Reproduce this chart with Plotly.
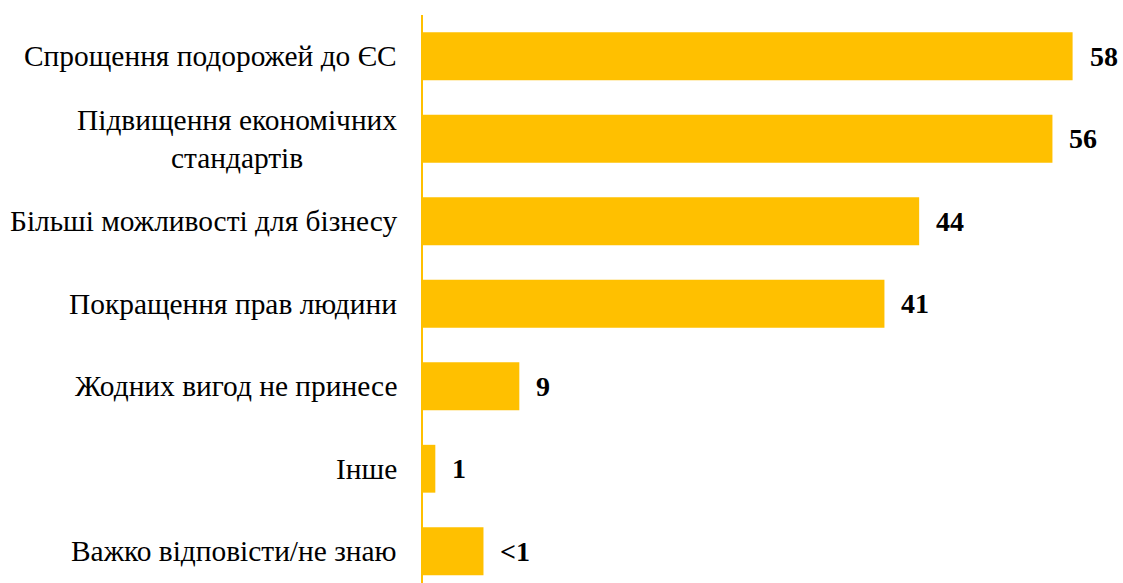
import plotly.graph_objects as go

categories = [
    "Спрощення подорожей до ЄС",
    "Підвищення економічних<br>стандартів",
    "Більші можливості для бізнесу",
    "Покращення прав людини",
    "Жодних вигод не принесе",
    "Інше",
    "Важко відповісти/не знаю",
]
values = [58, 56.2, 44.3, 41.2, 8.6, 1.1, 5.4]
value_labels = ["58", "56", "44", "41", "9", "1", "<1"]

GOLD = "#FFC000"
FONT = "Liberation Serif, Times New Roman, serif"

ypos = list(range(len(categories)))

fig = go.Figure()
fig.add_trace(go.Bar(
    x=values, y=ypos, orientation="h",
    marker=dict(color=GOLD, line=dict(width=0)),
    width=0.58, hoverinfo="skip",
))

annotations = []
for i, (cat, v, lab) in enumerate(zip(categories, values, value_labels)):
    annotations.append(dict(
        x=v, y=i, xref="x", yref="y", text=f"<b>{lab}</b>",
        showarrow=False, xanchor="left", yanchor="middle", xshift=15,
        font=dict(family=FONT, size=28, color="black"),
    ))
    annotations.append(dict(
        x=0, y=i, xref="paper", yref="y", text=cat,
        showarrow=False, xanchor="right", yanchor="middle", xshift=-24,
        align="center",
        font=dict(family=FONT, size=29.4, color="black"),
    ))

fig.update_layout(
    width=1123, height=583,
    margin=dict(l=423, r=0, t=15, b=0),
    paper_bgcolor="white", plot_bgcolor="white",
    showlegend=False,
    annotations=annotations,
    xaxis=dict(range=[0, 62.5], showgrid=False, zeroline=False,
               showticklabels=False, showline=False),
    yaxis=dict(range=[6.385, -0.5], showgrid=False, zeroline=False,
               showticklabels=False, showline=True, linecolor=GOLD,
               linewidth=2, ticks=""),
)

fig.write_html(
    "out.html",
    config={"displayModeBar": False},
    post_script="document.body.style.margin='0';document.body.style.overflow='hidden';",
)
